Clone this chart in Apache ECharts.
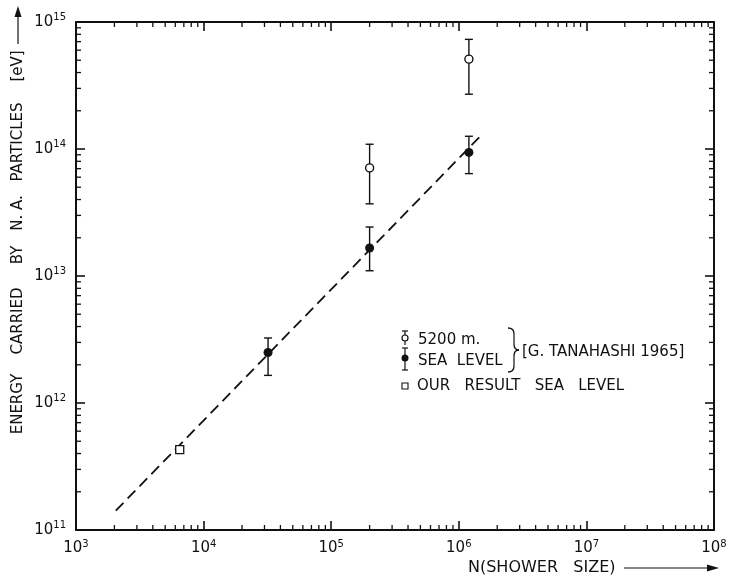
<!DOCTYPE html>
<html>
<head>
<meta charset="utf-8">
<script src="https://cdn.jsdelivr.net/npm/echarts@6/dist/echarts.min.js"></script>
<style>
  html, body { margin: 0; padding: 0; background: #fff; }
  #chart { width: 731px; height: 579px; }
</style>
</head>
<body>
<div id="chart"></div>
<script>
// 5200 m. (Tanahashi 1965) - open circles
var highN = [2.0e5, 1.2e6];
var highE = [7.1e13, 5.1e14];
var highLo = [3.7e13, 2.7e14];
var highHi = [1.09e14, 7.3e14];
// sea level (Tanahashi 1965) - filled circles
var seaN = [3.2e4, 2.0e5, 1.2e6];
var seaE = [2.5e12, 1.66e13, 9.4e13];
var seaLo = [1.65e12, 1.1e13, 6.4e13];
var seaHi = [3.25e12, 2.43e13, 1.26e14];
// our result sea level - square
var ourN = [6.5e3];
var ourE = [4.3e11];
// dashed fit line end points
var fitN = [2.05e3, 1.53e6];
var fitE = [1.42e11, 1.31e14];
// axes (decade exponents)
var xExp = [3, 4, 5, 6, 7, 8];
var yExp = [11, 12, 13, 14, 15];
// y title words (spread out like the original lettering)
var yTitleWords = ['ENERGY', 'CARRIED', 'BY', 'N. A.', 'PARTICLES', '[eV]'];

var xMin = Math.pow(10, xExp[0]), xMax = Math.pow(10, xExp[xExp.length - 1]);
var yMin = Math.pow(10, yExp[0]), yMax = Math.pow(10, yExp[yExp.length - 1]);
var FONT = 'DejaVu Sans';
var INK = '#111';
var F15 = '15px "' + FONT + '"';

// minor tick values 2..9 per decade
function minors(exps) {
  var out = [];
  for (var i = 0; i < exps.length - 1; i++) {
    for (var m = 2; m <= 9; m++) out.push(m * Math.pow(10, exps[i]));
  }
  return out;
}
var xMinor = minors(xExp).map(function (v) { return [v, yMin]; });
var yMinor = minors(yExp).map(function (v) { return [xMin, v]; });

function pow10Label(v) {
  var e = Math.round(Math.log(v) / Math.LN10);
  return '{b|10}{s|' + e + '}';
}
var richLab = {
  b: { fontSize: 15, fontFamily: FONT, color: INK },
  s: { fontSize: 10, fontFamily: FONT, color: INK, padding: [0, 0, 9, 0] }
};

function pairs(a, b) { return a.map(function (v, i) { return [v, b[i]]; }); }
function triples(a, lo, hi) { return a.map(function (v, i) { return [v, lo[i], hi[i]]; }); }

function errRender(params, api) {
  var x = api.value(0);
  var lo = api.coord([x, api.value(1)]);
  var hi = api.coord([x, api.value(2)]);
  var st = { stroke: INK, lineWidth: 1.4 };
  return {
    type: 'group',
    children: [
      { type: 'line', shape: { x1: lo[0], y1: lo[1], x2: hi[0], y2: hi[1] }, style: st },
      { type: 'line', shape: { x1: lo[0] - 4, y1: lo[1], x2: lo[0] + 4, y2: lo[1] }, style: st },
      { type: 'line', shape: { x1: hi[0] - 4, y1: hi[1], x2: hi[0] + 4, y2: hi[1] }, style: st }
    ]
  };
}

function xMinorRender(params, api) {
  var b = api.coord([api.value(0), yMin]);
  var t = api.coord([api.value(0), yMax]);
  var st = { stroke: INK, lineWidth: 1.3 };
  return {
    type: 'group',
    children: [
      { type: 'line', shape: { x1: b[0], y1: b[1], x2: b[0], y2: b[1] - 5 }, style: st },
      { type: 'line', shape: { x1: t[0], y1: t[1], x2: t[0], y2: t[1] + 5 }, style: st }
    ]
  };
}
function yMinorRender(params, api) {
  var l = api.coord([xMin, api.value(1)]);
  var r = api.coord([xMax, api.value(1)]);
  var st = { stroke: INK, lineWidth: 1.3 };
  return {
    type: 'group',
    children: [
      { type: 'line', shape: { x1: l[0], y1: l[1], x2: l[0] + 5, y2: l[1] }, style: st },
      { type: 'line', shape: { x1: r[0], y1: r[1], x2: r[0] - 5, y2: r[1] }, style: st }
    ]
  };
}

function axisBase() {
  return {
    type: 'log',
    logBase: 10,
    axisLine: { show: true, onZero: false, lineStyle: { color: INK, width: 2 } },
    axisTick: { show: true, inside: true, length: 9, lineStyle: { color: INK, width: 1.6 } },
    splitLine: { show: false },
    minorTick: { show: false },
    minorSplitLine: { show: false }
  };
}

var xBottom = Object.assign(axisBase(), {
  min: xMin, max: xMax, splitNumber: 5, position: 'bottom',
  axisLabel: { formatter: pow10Label, rich: richLab, margin: 9 }
});
var xTop = Object.assign(axisBase(), {
  min: xMin, max: xMax, splitNumber: 5, position: 'top',
  axisLabel: { show: false }
});
var yLeft = Object.assign(axisBase(), {
  min: yMin, max: yMax, splitNumber: 4, position: 'left',
  axisLabel: { formatter: pow10Label, rich: richLab, margin: 10 }
});
var yRight = Object.assign(axisBase(), {
  min: yMin, max: yMax, splitNumber: 4, position: 'right',
  axisLabel: { show: false }
});

// y title word centres (px along the left margin)
var yTitleCy = [404, 321, 255, 213, 142, 66];
var yTitle = yTitleWords.map(function (w, i) {
  return {
    type: 'text', x: 18, y: yTitleCy[i], rotation: Math.PI / 2,
    style: { text: w, fill: INK, font: F15, align: 'center', verticalAlign: 'middle' }
  };
});

function seg(x1, y1, x2, y2) {
  return { type: 'line', shape: { x1: x1, y1: y1, x2: x2, y2: y2 }, style: { stroke: INK, lineWidth: 1.2 } };
}
function curve(x1, y1, cx, cy, x2, y2) {
  return {
    type: 'bezierCurve',
    shape: { x1: x1, y1: y1, cpx1: cx, cpy1: cy, x2: x2, y2: y2 },
    style: { stroke: INK, lineWidth: 1.3, fill: null }
  };
}

var chart = echarts.init(document.getElementById('chart'), null, { renderer: 'canvas' });

var option = {
  backgroundColor: '#fff',
  animation: false,
  grid: { left: 76, right: 17, top: 22, bottom: 49 },
  xAxis: [xBottom, xTop],
  yAxis: [yLeft, yRight],
  series: [
    {
      type: 'custom', name: 'xMinor', renderItem: xMinorRender, data: xMinor,
      xAxisIndex: 0, yAxisIndex: 0, clip: false, silent: true, z: 1
    },
    {
      type: 'custom', name: 'yMinor', renderItem: yMinorRender, data: yMinor,
      xAxisIndex: 0, yAxisIndex: 0, clip: false, silent: true, z: 1
    },
    {
      type: 'line', name: 'fit', data: pairs(fitN, fitE), symbol: 'none',
      lineStyle: { color: INK, width: 1.8, type: [11, 6] }, z: 2
    },
    {
      type: 'custom', name: 'highErr', renderItem: errRender, data: triples(highN, highLo, highHi), z: 3
    },
    {
      type: 'custom', name: 'seaErr', renderItem: errRender, data: triples(seaN, seaLo, seaHi), z: 3
    },
    {
      type: 'scatter', name: '5200 m.', data: pairs(highN, highE), symbol: 'circle', symbolSize: 8,
      itemStyle: { color: '#fff', borderColor: INK, borderWidth: 1.4, opacity: 1 }, z: 4
    },
    {
      type: 'scatter', name: 'SEA LEVEL', data: pairs(seaN, seaE), symbol: 'circle', symbolSize: 9,
      itemStyle: { color: INK, opacity: 1 }, z: 4
    },
    {
      type: 'scatter', name: 'OUR RESULT SEA LEVEL', data: pairs(ourN, ourE), symbol: 'rect', symbolSize: 8,
      itemStyle: { color: '#fff', borderColor: INK, borderWidth: 1.3, opacity: 1 }, z: 4
    }
  ],
  graphic: yTitle.concat([
    // y arrow
    seg(18, 44, 18, 14),
    { type: 'polygon', shape: { points: [[18, 6], [14.5, 17], [21.5, 17]] }, style: { fill: INK } },
    // x axis title and arrow
    {
      type: 'text', x: 468, y: 568,
      style: { text: 'N(SHOWER   SIZE)', fill: INK, font: '16px "' + FONT + '"', align: 'left', verticalAlign: 'middle' }
    },
    seg(624, 568, 708, 568),
    { type: 'polygon', shape: { points: [[719, 568], [707, 564.5], [707, 571.5]] }, style: { fill: INK } },
    // legend markers
    seg(405, 331, 405, 345),
    seg(402, 331, 408, 331),
    seg(402, 348, 408, 348),
    { type: 'circle', shape: { cx: 405, cy: 338, r: 3 }, style: { fill: '#fff', stroke: INK, lineWidth: 1.2 } },
    seg(405, 348, 405, 370),
    seg(402, 370, 408, 370),
    { type: 'circle', shape: { cx: 405, cy: 358, r: 3.5 }, style: { fill: INK } },
    { type: 'rect', shape: { x: 402, y: 383, width: 6, height: 6 }, style: { fill: '#fff', stroke: INK, lineWidth: 1.1 } },
    // legend texts
    { type: 'text', x: 418, y: 340, style: { text: '5200 m.', fill: INK, font: F15, verticalAlign: 'middle' } },
    { type: 'text', x: 418, y: 361, style: { text: 'SEA  LEVEL', fill: INK, font: F15, verticalAlign: 'middle' } },
    { type: 'text', x: 417, y: 386, style: { text: 'OUR   RESULT   SEA   LEVEL', fill: INK, font: F15, verticalAlign: 'middle' } },
    // brace
    curve(508, 328, 514, 328, 514, 334),
    seg(514, 334, 514, 344),
    curve(514, 344, 514, 350, 519, 350),
    curve(519, 350, 514, 350, 514, 356),
    seg(514, 356, 514, 366),
    curve(514, 366, 514, 372, 508, 372),
    { type: 'text', x: 522, y: 352, style: { text: '[G. TANAHASHI 1965]', fill: INK, font: F15, verticalAlign: 'middle' } }
  ])
};

chart.setOption(option);
</script>
</body>
</html>
